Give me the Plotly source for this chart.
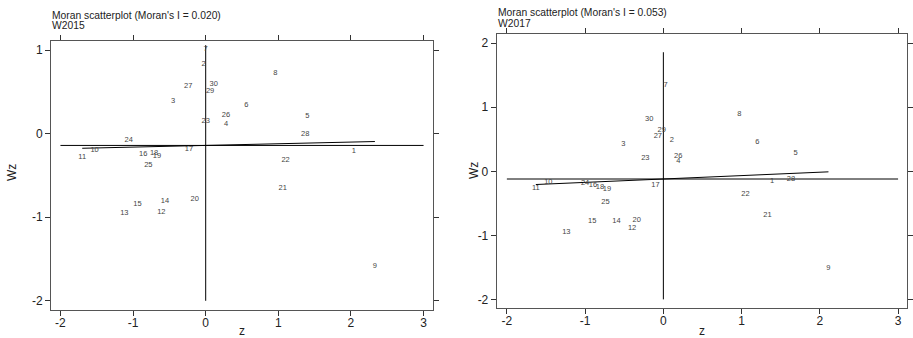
import plotly.graph_objects as go

W, H = 913, 338

# ---- data: W2015 ----
labels_15 = [str(i) for i in range(1, 31)]
z_15 = [2.04, -0.03, -0.45, 0.28, 1.40, 0.56, 0.00, 0.96, 2.33, -1.53,
        -1.70, -0.61, -1.12, -0.56, -0.94, -0.86, -0.23, -0.71, -0.67, -0.15,
        1.06, 1.10, 0.00, -1.06, -0.79, 0.28, -0.24, 1.37, 0.06, 0.11]
wz_15 = [-0.21, 0.83, 0.39, 0.12, 0.21, 0.34, 1.01, 0.73, -1.59, -0.20,
         -0.28, -0.94, -0.95, -0.81, -0.84, -0.25, -0.19, -0.23, -0.27, -0.78,
         -0.65, -0.31, 0.15, -0.08, -0.37, 0.22, 0.57, -0.01, 0.51, 0.59]
moran_15 = 0.020
mean_wz_15 = -0.14
mean_z_15 = 0.0
vline_15 = [-2.0, 1.06]
hline_15 = [-2.0, 3.0]

# ---- data: W2017 ----
labels_17 = [str(i) for i in range(1, 31)]
z_17 = [1.39, 0.11, -0.51, 0.19, 1.69, 1.20, 0.03, 0.97, 2.11, -1.47,
        -1.63, -0.40, -1.24, -0.60, -0.91, -0.90, -0.10, -0.81, -0.72, -0.34,
        1.33, 1.05, -0.23, -1.00, -0.74, 0.19, -0.07, 1.63, -0.02, -0.18]
wz_17 = [-0.16, 0.48, 0.43, 0.16, 0.29, 0.45, 1.34, 0.90, -1.51, -0.17,
         -0.27, -0.89, -0.95, -0.78, -0.78, -0.22, -0.21, -0.25, -0.28, -0.77,
         -0.68, -0.35, 0.21, -0.18, -0.48, 0.24, 0.55, -0.12, 0.65, 0.82]
moran_17 = 0.053
mean_wz_17 = -0.12
mean_z_17 = 0.0
vline_17 = [-2.0, 1.86]
hline_17 = [-2.0, 3.0]

x_ticks = [-2, -1, 0, 1, 2, 3]
y_ticks_15 = [-2, -1, 0, 1]
y_ticks_17 = [-2, -1, 0, 1, 2]

fig = go.Figure()

def add_panel(z, wz, labels, I, mz, mwz, vl, hl, xa, ya):
    fig.add_trace(go.Scatter(x=[mz, mz], y=vl, mode="lines",
                             line=dict(color="black", width=1),
                             xaxis=xa, yaxis=ya, hoverinfo="skip", showlegend=False))
    fig.add_trace(go.Scatter(x=hl, y=[mwz, mwz], mode="lines",
                             line=dict(color="black", width=1),
                             xaxis=xa, yaxis=ya, hoverinfo="skip", showlegend=False))
    zmin, zmax = min(z), max(z)
    fig.add_trace(go.Scatter(x=[zmin, zmax],
                             y=[mwz + I * (zmin - mz), mwz + I * (zmax - mz)],
                             mode="lines", line=dict(color="black", width=1),
                             xaxis=xa, yaxis=ya, hoverinfo="skip", showlegend=False))
    fig.add_trace(go.Scatter(x=z, y=wz, text=labels, mode="text",
                             textfont=dict(family="Liberation Sans, Arial", size=7.5, color="#444"),
                             textposition="middle center",
                             xaxis=xa, yaxis=ya, showlegend=False))

add_panel(z_15, wz_15, labels_15, moran_15, mean_z_15, mean_wz_15, vline_15, hline_15, "x", "y")
add_panel(z_17, wz_17, labels_17, moran_17, mean_z_17, mean_wz_17, vline_17, hline_17, "x2", "y2")

ax_common = dict(showline=True, linecolor="#555", linewidth=1, mirror="allticks",
                 ticks="outside", ticklen=5, tickcolor="#333", tickwidth=1,
                 showgrid=False, zeroline=False, automargin=False,
                 tickfont=dict(family="Liberation Sans, Arial", size=12, color="#222"))

def tt(vals):
    return [str(v) for v in vals]

def px(v):
    return v / W

def py(v):
    return 1 - v / H

fig.update_layout(
    width=W, height=H,
    margin=dict(l=0, r=0, t=0, b=0),
    paper_bgcolor="white", plot_bgcolor="white",
    xaxis=dict(domain=[px(51), px(433)], range=[-2.13, 3.13], tickvals=x_ticks, ticktext=tt(x_ticks),
               anchor="y", ticklabelstandoff=-3, **ax_common),
    yaxis=dict(domain=[py(310), py(41)], range=[-2.11, 1.11], tickvals=y_ticks_15, ticktext=tt(y_ticks_15),
               anchor="x", **ax_common),
    xaxis2=dict(domain=[px(496.7), px(906.7)], range=[-2.13, 3.11], tickvals=x_ticks, ticktext=tt(x_ticks),
                anchor="y2", ticklabelstandoff=-3, **ax_common),
    yaxis2=dict(domain=[py(307.7), py(34.3)], range=[-2.13, 2.14], tickvals=y_ticks_17, ticktext=tt(y_ticks_17),
                anchor="x2", **ax_common),
)

fnt = "Liberation Sans, Arial"
ann = [
    dict(x=px(50), y=py(15.5), text="Moran scatterplot (Moran's I = 0.020)", xanchor="left", yanchor="middle", font=dict(size=10.3)),
    dict(x=px(50), y=py(25.5), text="W2015", xanchor="left", yanchor="middle", font=dict(size=10.3)),
    dict(x=px(495.5), y=py(13), text="Moran scatterplot (Moran's I = 0.053)", xanchor="left", yanchor="middle", font=dict(size=10.3)),
    dict(x=px(495.5), y=py(23), text="W2017", xanchor="left", yanchor="middle", font=dict(size=10.3)),
    dict(x=px(242), y=py(331), text="z", xanchor="center", yanchor="middle", font=dict(size=12)),
    dict(x=px(702), y=py(331), text="z", xanchor="center", yanchor="middle", font=dict(size=12)),
    dict(x=px(12), y=py(173), text="Wz", xanchor="center", yanchor="middle", textangle=-90, font=dict(size=12)),
    dict(x=px(474), y=py(171), text="Wz", xanchor="center", yanchor="middle", textangle=-90, font=dict(size=12)),
]
for a in ann:
    a.update(xref="paper", yref="paper", showarrow=False)
    a["font"].update(family=fnt, color="#222")
fig.update_layout(annotations=ann)

fig.write_html("out.html", config={"displayModeBar": False},
               post_script="document.body.style.margin='0';document.body.style.overflow='hidden';")
